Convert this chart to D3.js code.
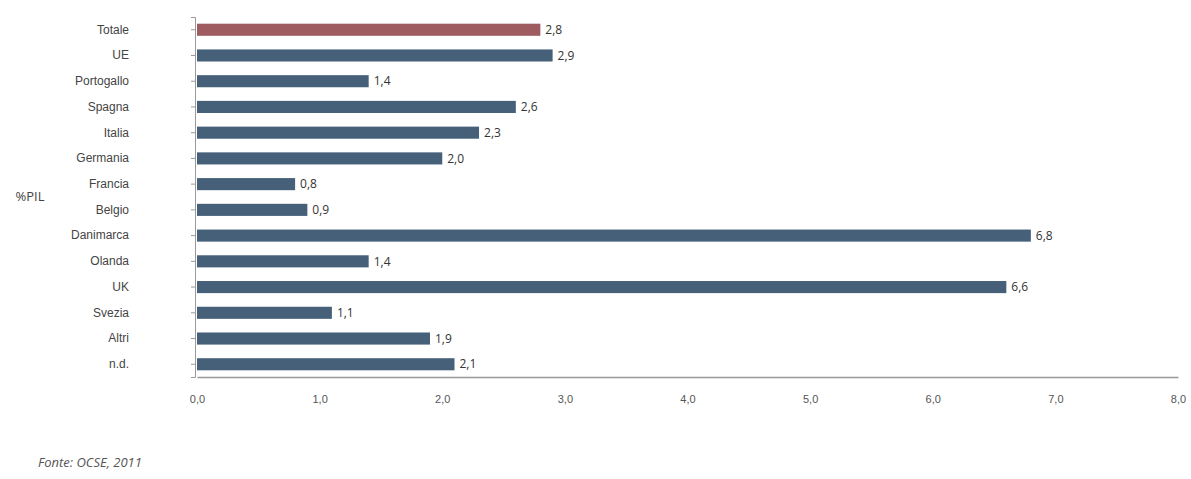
<!DOCTYPE html>
<html>
<head>
<meta charset="utf-8">
<script src="https://cdn.jsdelivr.net/npm/d3@7"></script>
<style>
  body { margin: 0; background: #fff; font-family: "Open Sans", "DejaVu Sans", sans-serif; }
  .axis text { fill: #555; font-size: 11px; }
  .axis path, .axis line { stroke: #999; }
  .cat text { fill: #444; font-size: 12px; }
  .val { fill: #333; font-size: 12px; }
</style>
</head>
<body>
<div id="chart"></div>
<script>
// data
const categories = ["Totale", "UE", "Portogallo", "Spagna", "Italia", "Germania", "Francia",
  "Belgio", "Danimarca", "Olanda", "UK", "Svezia", "Altri", "n.d."];
const values = [2.8, 2.9, 1.4, 2.6, 2.3, 2.0, 0.8, 0.9, 6.8, 1.4, 6.6, 1.1, 1.9, 2.1];
const xTicks = [0, 1, 2, 3, 4, 5, 6, 7, 8];
const axisTitle = "%PIL";
const sourceNote = "Fonte: OCSE, 2011";

const width = 1191, height = 479;
const margin = { top: 17, right: 13, bottom: 102, left: 197 };

const svg = d3.select("#chart").append("svg")
  .attr("width", width)
  .attr("height", height);

const x = d3.scaleLinear().domain([0, 8]).range([margin.left, width - margin.right]);
const y = d3.scaleBand().domain(categories)
  .range([margin.top, height - margin.bottom])
  .paddingInner(0.53).paddingOuter(0.26);

const fmt = d3.format(".1f");
const comma = (v) => fmt(v).replace(".", ",");

// x axis
svg.append("g")
  .attr("class", "axis")
  .attr("transform", `translate(0,${height - margin.bottom})`)
  .call(d3.axisBottom(x).tickValues(xTicks).tickFormat(comma).tickSize(0).tickPadding(18))
  .call((g) => g.select(".domain").attr("stroke", "#999").attr("stroke-width", 1.5));

// y axis
svg.append("g")
  .attr("class", "axis cat")
  .attr("transform", `translate(${margin.left - 2},0)`)
  .call(d3.axisLeft(y).tickSize(4).tickPadding(62))
  .call((g) => g.select(".domain").attr("stroke", "#999"));

svg.append("text")
  .attr("x", 30)
  .attr("y", (margin.top + height - margin.bottom) / 2 + 4)
  .attr("text-anchor", "middle")
  .attr("fill", "#444")
  .attr("font-size", 13)
  .text(axisTitle);

const rows = categories.map((c, i) => ({ cat: c, value: values[i] }));

svg.append("g").selectAll("rect")
  .data(rows)
  .join("rect")
  .attr("x", x(0))
  .attr("y", (d) => y(d.cat))
  .attr("width", (d) => x(d.value) - x(0))
  .attr("height", y.bandwidth())
  .attr("fill", (d, i) => i === 0 ? "#9e5b60" : "#46607a");

svg.append("g").selectAll("text")
  .data(rows)
  .join("text")
  .attr("class", "val")
  .attr("x", (d) => x(d.value) + 5)
  .attr("y", (d) => y(d.cat) + y.bandwidth() / 2)
  .attr("dy", "0.35em")
  .text((d) => comma(d.value));

svg.append("text")
  .attr("x", 38)
  .attr("y", 467)
  .attr("fill", "#555")
  .attr("font-size", 13)
  .attr("font-style", "italic")
  .text(sourceNote);
</script>
</body>
</html>
